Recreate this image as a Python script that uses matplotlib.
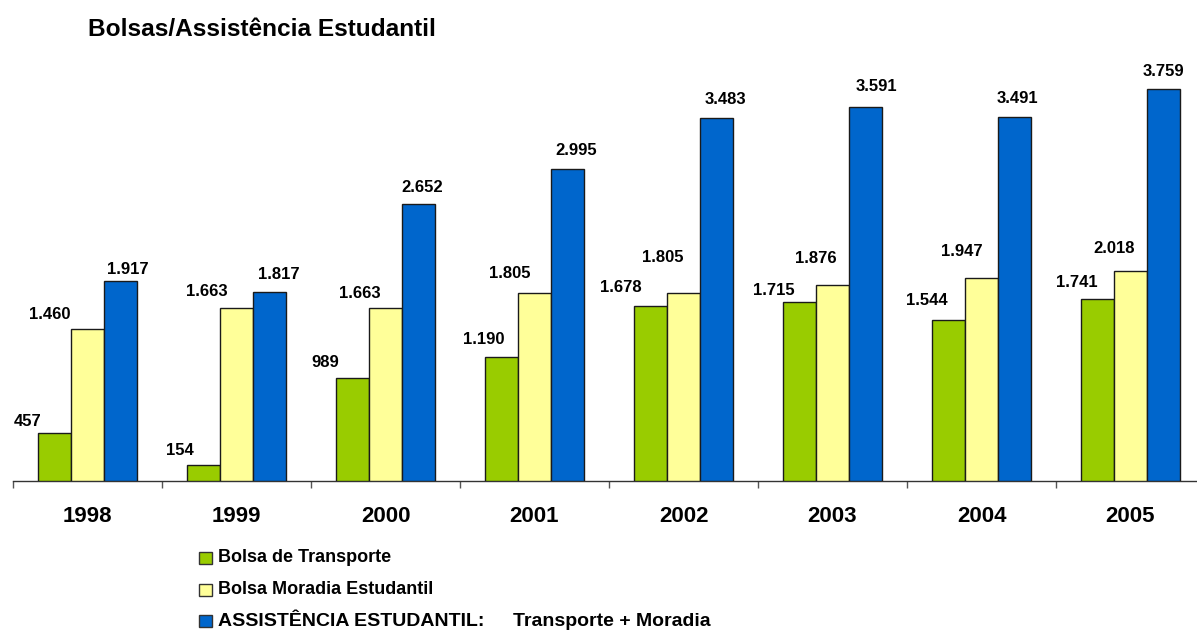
import matplotlib
matplotlib.use("Agg")
import matplotlib.pyplot as plt
from matplotlib.patches import Rectangle
import numpy as np

plt.rcParams['font.family'] = ['Liberation Sans', 'DejaVu Sans']

years = ['1998', '1999', '2000', '2001', '2002', '2003', '2004', '2005']
transporte = [457, 154, 989, 1190, 1678, 1715, 1544, 1741]
moradia = [1460, 1663, 1663, 1805, 1805, 1876, 1947, 2018]
assistencia = [1917, 1817, 2652, 2995, 3483, 3591, 3491, 3759]
labels_fmt = lambda v: f"{v:,}".replace(",", ".")

series_names = ['Bolsa de Transporte', 'Bolsa Moradia Estudantil',
                ['ASSISTÊNCIA ESTUDANTIL:', 'Transporte + Moradia']]
colors = ['#99CC00', '#FFFF99', '#0066CC']

# label offsets (pixels) relative to bar top centre: (dx, dy)
lab_off = [
    [(-27, 12), (-23, 14), (-27, 15), (-18, 17), (-30, 19), (-26, 12), (-22, 19), (-21, 17)],
    [(-38, 14), (-30, 16), (-26, 14), (-25, 19), (-21, 35), (-17, 27), (-20, 26), (-16, 22)],
    [(7, 12), (9, 17), (4, 17), (9, 18), (9, 18), (11, 20), (3, 18), (0, 18)],
]

W, H = 1197, 630
fig = plt.figure(figsize=(W / 100, H / 100), dpi=100)
base_y = 481
top_y = 481 - 4000 * 392 / 3759
left_x, right_x = 13, 13 + 8 * 149
ax = fig.add_axes([left_x / W, (H - base_y) / H, (right_x - left_x) / W, (base_y - top_y) / H])

x = np.arange(len(years))
bw = 0.2225
all_series = [transporte, moradia, assistencia]
for i, (vals, col) in enumerate(zip(all_series, colors)):
    xs = x + (i - 1) * bw
    ax.bar(xs, vals, width=bw, color=col, edgecolor='#1a1a1a', linewidth=1.0, zorder=3)
    for j, v in enumerate(vals):
        dx, dy = lab_off[i][j]
        ax.annotate(labels_fmt(v), xy=(xs[j], v), xytext=(dx, dy), textcoords='offset pixels',
                    ha='center', va='center', fontsize=12, fontweight='bold', color='black')

ax.set_xlim(-0.5, len(years) - 0.5)
ax.set_ylim(0, 4000)
for s in ['top', 'right', 'left']:
    ax.spines[s].set_visible(False)
ax.spines['bottom'].set_color('#333333')
ax.spines['bottom'].set_linewidth(1.0)
ax.set_yticks([])
ax.set_xticks(x)
ax.set_xticklabels(years, fontsize=16, fontweight='bold')
ax.tick_params(axis='x', which='major', length=0, pad=18)
ax.set_xticks(np.arange(len(years) + 1) - 0.5, minor=True)
ax.tick_params(axis='x', which='minor', length=5, color='#555555', width=1)

fig.text(88 / W, 1 - 30 / H, 'Bolsas/Assistência Estudantil', ha='left', va='center',
         fontsize=17.6, fontweight='bold')

rows_y = [558, 590, 621]
for name, col, ry in zip(series_names, colors, rows_y):
    fig.patches.append(Rectangle(((199) / W, 1 - (ry + 6) / H), 13 / W, 12 / H,
                                 transform=fig.transFigure, facecolor=col,
                                 edgecolor='#333333', linewidth=1.0))
    if isinstance(name, list):
        fig.text(218 / W, 1 - ry / H, name[0], ha='left', va='center', fontsize=14, fontweight='bold')
        fig.text(513 / W, 1 - ry / H, name[1], ha='left', va='center', fontsize=14, fontweight='bold')
    else:
        fig.text(218 / W, 1 - ry / H, name, ha='left', va='center', fontsize=13, fontweight='bold')

fig.savefig('out.png', dpi=100)
